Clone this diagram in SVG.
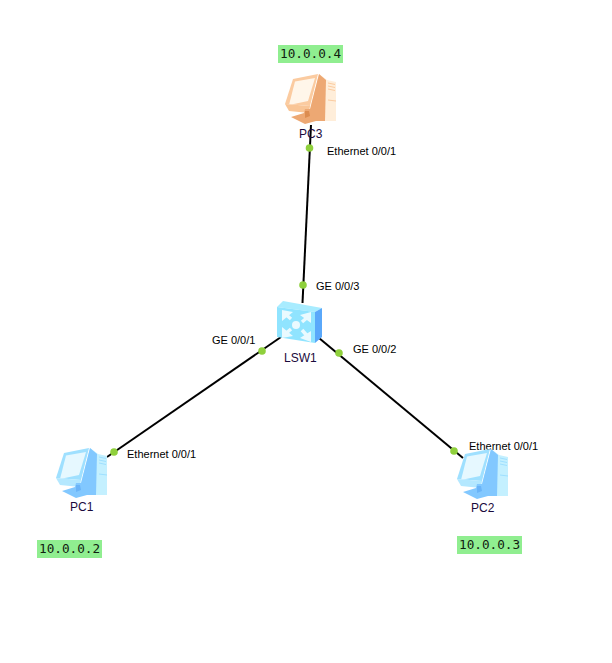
<svg xmlns="http://www.w3.org/2000/svg" width="612" height="663" viewBox="0 0 612 663">
<style>
.bg{fill:#fff}
.link{stroke:#000;stroke-width:2;fill:none}
.dot{fill:#8fd03c}
.lbl{font:11px "Liberation Sans",Arial,sans-serif;fill:#000}
.name{font:12px "Liberation Sans",Arial,sans-serif;fill:#1a0a3c}
.ip{fill:#90ee90}
.ipt{font:12.7px "DejaVu Sans Mono",monospace;fill:#102010}
.blue{--a:#9fe0ff;--b:#e6f8ff;--c:#82c8ff;--d:#c4f0ff;--e:#b4e8ff;--f:#6ab4f8}
.orange{--a:#fbcba0;--b:#fff6ea;--c:#eda873;--d:#ffeeda;--e:#f9c596;--f:#dc8c50}
</style>
<defs>
<g id="pc">
<path d="M34 0 L42 6 L51 8 V47 L28 47 L24 39 Z" style="fill:var(--d)"/>
<path d="M34 0 L41 6 L40 47 L28 47 L24 39 Z" style="fill:var(--c)"/>
<path d="M43 9 L50 10.500 M43 12 L50 13.500 M43 15 L50 16.500 M43 26 L51 27" style="stroke:var(--a);fill:none"/>
<path d="M8 5 L33 0 L25 32 L0 30 Z" style="fill:var(--a)"/>
<path d="M10 7.500 L30 4 L23 27 L4 31 Z" style="fill:var(--b)"/>
<path d="M0 30 L25 32 L24 39 L4 37 Z" style="fill:var(--e)"/>
<path d="M6 43 L19 39 L20 35 L25 35 L25 39 L31 47 L20 50 Z" style="fill:var(--c)"/>
<path d="M20 37 L24 37 L25 42 L20 44 Z" style="fill:var(--f)"/>
</g>
</defs>
<rect class="bg" width="612" height="663"/>
<g id="connectors">
<line class="link" x1="311" y1="125" x2="302.500" y2="303"/>
<line class="link" x1="107" y1="457" x2="281" y2="337"/>
<line class="link" x1="463" y1="458" x2="319" y2="338"/>
<circle class="dot" cx="309.500" cy="148" r="3.800"/>
<circle class="dot" cx="303" cy="285" r="3.800"/>
<circle class="dot" cx="262" cy="351" r="3.800"/>
<circle class="dot" cx="339" cy="353" r="3.800"/>
<circle class="dot" cx="454" cy="451" r="3.800"/>
<circle class="dot" cx="114" cy="452" r="3.800"/>
<text class="lbl" x="327" y="155">Ethernet 0/0/1</text>
<text class="lbl" x="316" y="290">GE 0/0/3</text>
<text class="lbl" x="212" y="344">GE 0/0/1</text>
<text class="lbl" x="353" y="353">GE 0/0/2</text>
<text class="lbl" x="127" y="458">Ethernet 0/0/1</text>
<text class="lbl" x="469" y="450">Ethernet 0/0/1</text>
</g>
<g id="PC3" class="orange">
<use href="#pc" transform="translate(285,74)"/>
<text class="name" x="299" y="138">PC3</text>
</g>
<g id="LSW1">
<path d="M277 307 L283 301 L322 308 L315 312 Z" fill="#a8ecff"/>
<path d="M277 307 L315 312 L315 343 L277 337 Z" fill="#90e4ff"/>
<path d="M315 312 L322 308 L322 337 L315 343 Z" fill="#5aa8fa"/>
<g fill="none" stroke="#eafaff" stroke-width="3.500">
<path d="M284 313 L291 319 M284 335 L291 329 M309 316 L302 322 M309 338 L302 330"/>
</g>
<g fill="#eafaff">
<path d="M282 321 L282 310 L293 312 Z M282 327 L282 338 L293 336 Z M311 323 L311 312 L300 315 Z M311 331 L311 342 L300 338 Z"/>
<circle cx="296" cy="325" r="4"/>
</g>
<text class="name" x="284" y="362">LSW1</text>
</g>
<g id="PC1" class="blue">
<use href="#pc" transform="translate(56,448)"/>
<text class="name" x="70" y="511">PC1</text>
</g>
<g id="PC2" class="blue">
<use href="#pc" transform="translate(457,449)"/>
<text class="name" x="471" y="512">PC2</text>
</g>
<g id="ip4"><rect class="ip" x="278" y="45" width="65" height="18"/><text class="ipt" x="280" y="58">10.0.0.4</text></g>
<g id="ip2"><rect class="ip" x="37" y="540" width="65" height="18"/><text class="ipt" x="39" y="553">10.0.0.2</text></g>
<g id="ip3"><rect class="ip" x="457" y="536" width="65" height="18"/><text class="ipt" x="459" y="549">10.0.0.3</text></g>
</svg>
